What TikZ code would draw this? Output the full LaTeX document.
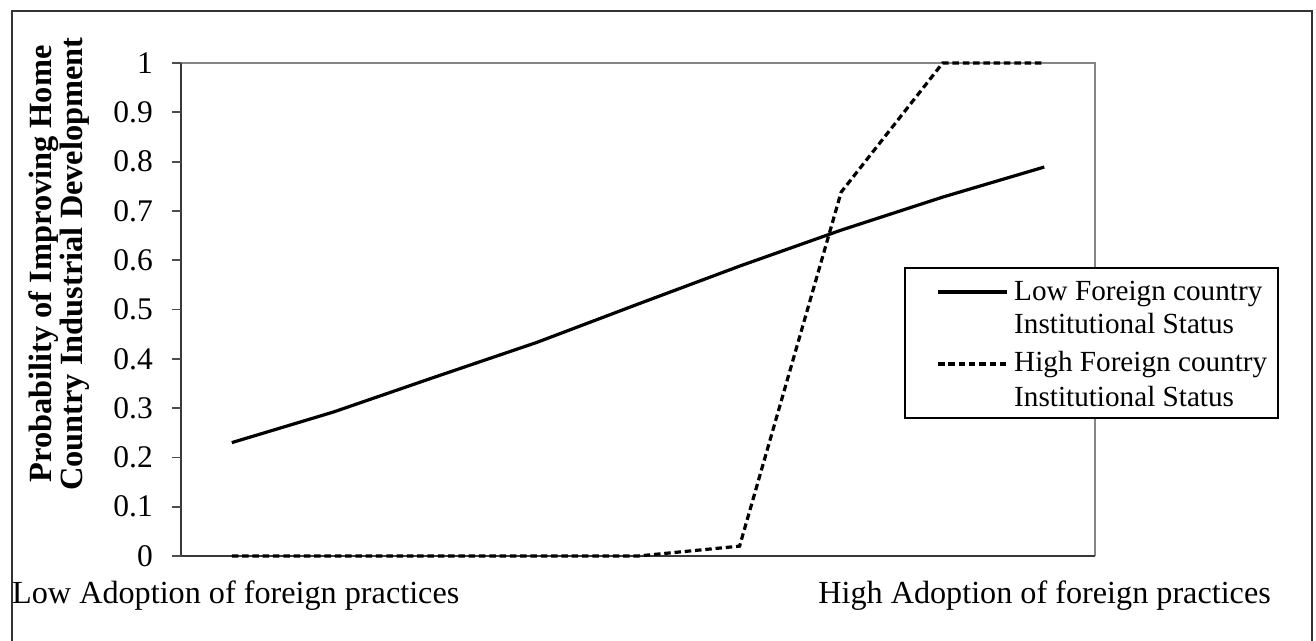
\documentclass[tikz,border=0pt]{standalone}
\usepackage{fontspec}
\setmainfont{Liberation Serif}
\begin{document}
\begin{tikzpicture}[x=1pt,y=-1pt,
  frameline/.style={draw=black!80, line width=1.6pt},
  plotborder/.style={draw=black!48, line width=2.4pt},
  axisline/.style={draw=black!78, line width=2.4pt},
  tickline/.style={draw=black!70, line width=1.8pt},
  ticklabel/.style={anchor=east, inner sep=0pt, font=\fontsize{31.5}{31.5}\selectfont},
  axislabel/.style={inner sep=0pt, font=\fontsize{32.2}{32}\selectfont},
  ytitle/.style={rotate=90, align=center, inner sep=0pt, font=\bfseries\fontsize{32.4}{31}\selectfont},
  legendtext/.style={anchor=base west, inner sep=0pt, font=\fontsize{29.2}{29}\selectfont},
  lowseries/.style={draw=black, line width=3.2pt, line join=round},
  highseries/.style={draw=black, line width=3.2pt, dash pattern=on 6.5pt off 3.8pt, line join=miter},
]
\useasboundingbox (0,0) rectangle (1316,640);
\clip (0,0) rectangle (1316,640);
\fill[white] (0,0) rectangle (1316,640);

% outer chart frame (its lower edge lies below the page)
\draw[frameline] (12,700) -- (12,11) -- (1312,11) -- (1312,700);

% plot area: grey top and right border, dark axes
\draw[plotborder] (181,63) -- (1095,63) -- (1095,556);
\draw[axisline] (181,556) -- (181,63);
\draw[axisline] (181,556) -- (1095,556);

% y ticks and labels
\foreach \v [count=\i from 0] in {0,0.1,0.2,0.3,0.4,0.5,0.6,0.7,0.8,0.9,1} {
  \draw[tickline] (172,556-49.3*\i) -- (181,556-49.3*\i);
  \node[ticklabel] (t\i) at (153,556-49.3*\i) {\v};
}

% axis title
\node[ytitle] (ytitle) at (59,264) {Probability of Improving Home\\Country Industrial Development};

% x end labels
\node[axislabel, anchor=base west] (lowx) at (12,603) {Low Adoption of foreign practices};
\node[axislabel, anchor=base east] (highx) at (1271,603) {High Adoption of foreign practices};

% data series in chart units: categories 101.56 wide, 493 per unit of probability
\begin{scope}[shift={(181,556)}, x=101.56pt, y=493pt]
  \draw[lowseries] plot coordinates {(0.5,0.23) (1.5,0.292) (2.5,0.363) (3.5,0.433) (4.5,0.511)
    (5.5,0.588) (6.5,0.661) (7.5,0.728) (8.5,0.789)};
  \draw[highseries] plot coordinates {(0.5,0) (1.5,0) (2.5,0) (3.5,0) (4.5,0)
    (5.5,0.02) (6.5,0.738) (7.5,1) (8.5,1)};
\end{scope}

% legend
\draw[fill=white, draw=black, line width=1.3pt] (905,268) rectangle (1278,418);
\coordinate (l1a) at (938,292); \coordinate (l1b) at (1007,292);
\coordinate (l2a) at (938,364); \coordinate (l2b) at (1007,364);
\draw[lowseries] (l1a) -- (l1b);
\draw[highseries] (l2a) -- (l2b);
\node[legendtext] (leg1a) at (1014,300) {Low Foreign country};
\node[legendtext] (leg1b) at (1014,333) {Institutional Status};
\node[legendtext] (leg2a) at (1014,371) {High Foreign country};
\node[legendtext] (leg2b) at (1014,406) {Institutional Status};
\end{tikzpicture}
\end{document}
